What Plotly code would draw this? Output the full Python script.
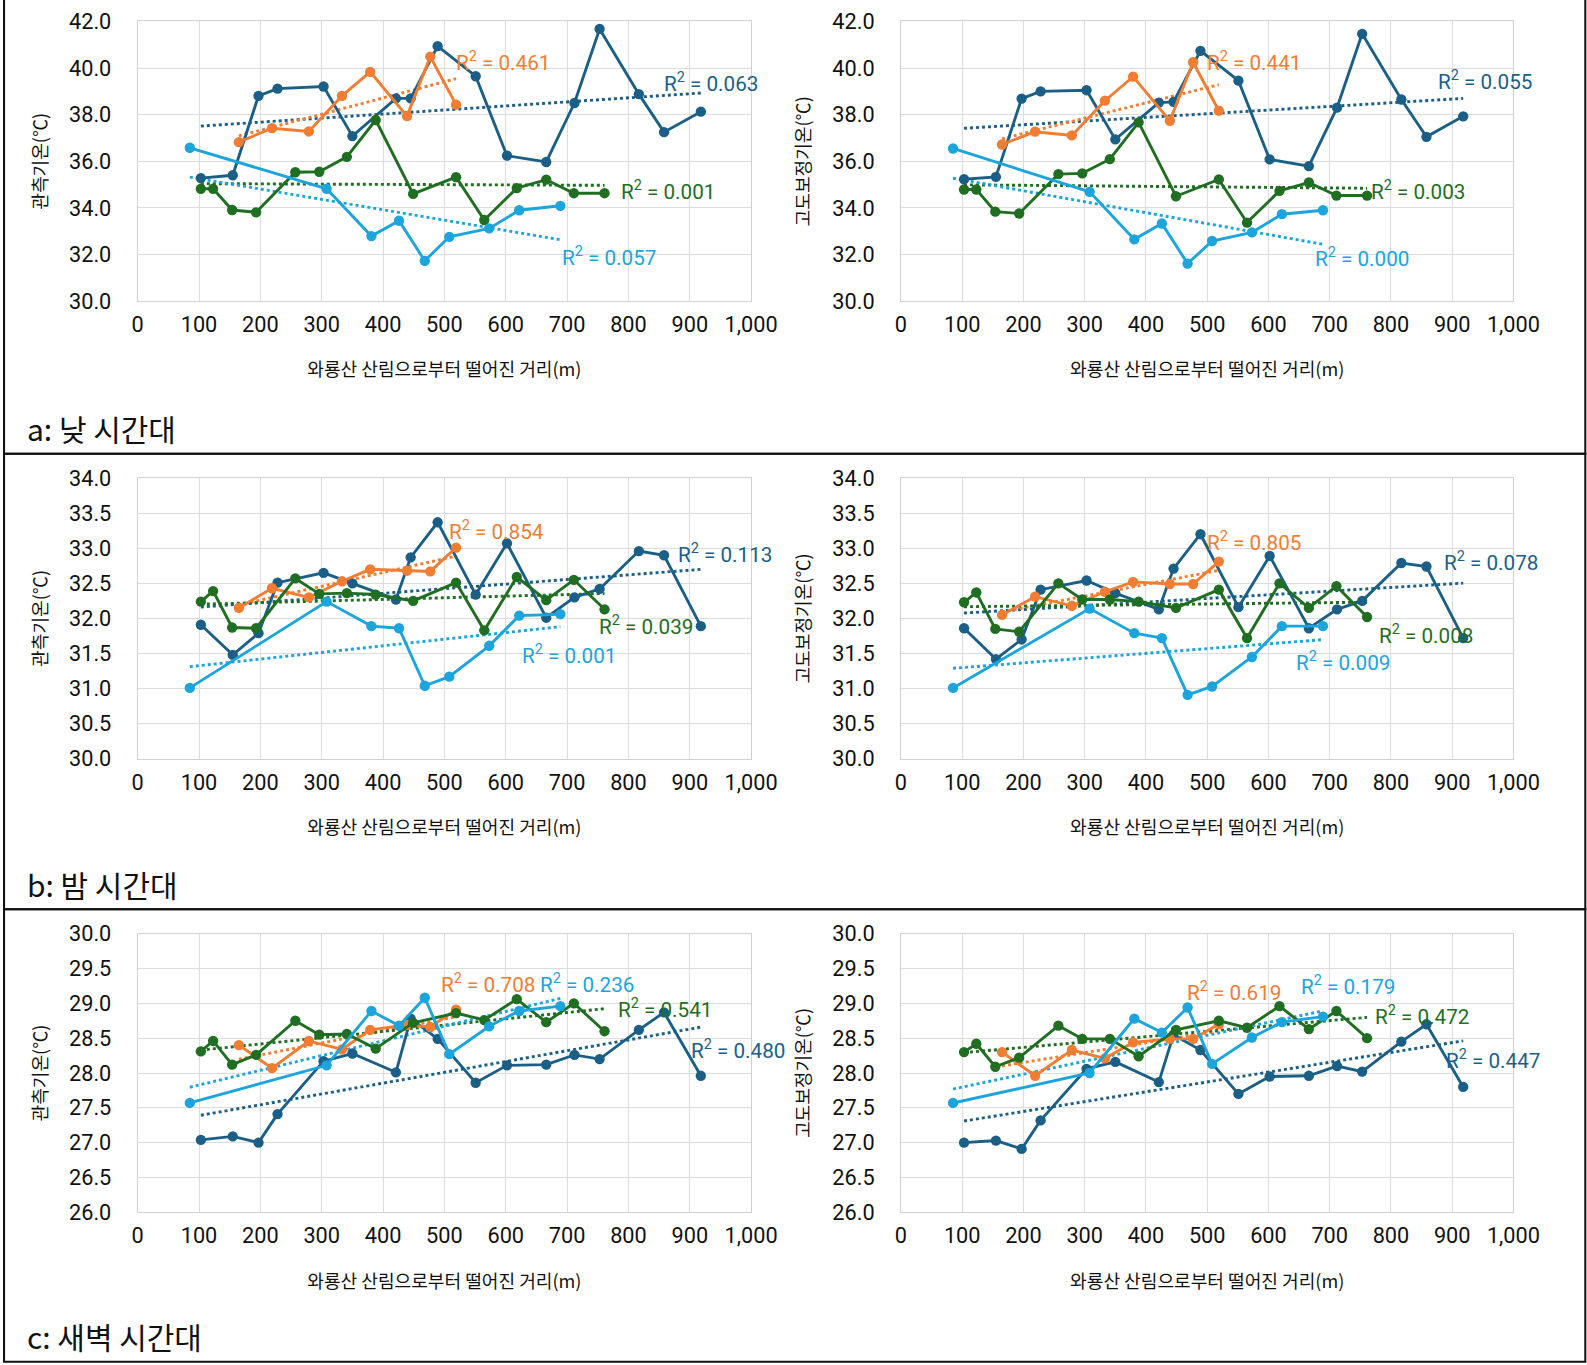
import numpy as np
import plotly.graph_objects as go

# ---------------- data ----------------
x_dark = [103, 155, 197, 228, 303, 350, 421, 445, 489, 551, 602, 666, 712, 753, 817, 858, 918]
x_orange = [165, 219, 279, 333, 379, 439, 477, 519]
x_green = [103, 123, 154, 193, 257, 296, 341, 388, 449, 519, 565, 618, 666, 711, 761]
x_light = [85, 308, 381, 426, 468, 508, 573, 622, 689]

# a: day, observed
day_obs_dark = [35.28, 35.40, 38.81, 39.12, 39.21, 37.08, 38.70, 38.70, 40.94, 39.65, 36.24, 35.97, 38.50, 41.68, 38.88, 37.25, 38.13]
day_obs_orange = [36.82, 37.42, 37.28, 38.81, 39.84, 37.94, 40.49, 38.43]
day_obs_green = [34.82, 34.82, 33.91, 33.81, 35.53, 35.55, 36.19, 37.77, 34.60, 35.32, 33.48, 34.85, 35.21, 34.63, 34.63]
day_obs_light = [36.58, 34.82, 32.79, 33.45, 31.73, 32.76, 33.12, 33.90, 34.09]
# a: day, altitude corrected
day_cor_dark = [35.23, 35.33, 38.69, 39.00, 39.05, 36.94, 38.52, 38.55, 40.74, 39.46, 36.08, 35.79, 38.30, 41.47, 38.65, 37.05, 37.93]
day_cor_orange = [36.72, 37.27, 37.11, 38.60, 39.63, 37.74, 40.25, 38.17]
day_cor_green = [34.79, 34.79, 33.84, 33.76, 35.45, 35.48, 36.09, 37.67, 34.50, 35.22, 33.37, 34.73, 35.09, 34.53, 34.53]
day_cor_light = [36.55, 34.69, 32.65, 33.33, 31.61, 32.58, 32.95, 33.73, 33.90]

# b: night, observed
night_obs_dark = [31.91, 31.48, 31.79, 32.51, 32.65, 32.50, 32.27, 32.87, 33.37, 32.34, 33.07, 32.01, 32.30, 32.42, 32.96, 32.90, 31.89]
night_obs_orange = [32.15, 32.43, 32.30, 32.53, 32.70, 32.68, 32.67, 33.01]
night_obs_green = [32.24, 32.39, 31.87, 31.86, 32.57, 32.35, 32.36, 32.34, 32.25, 32.51, 31.83, 32.59, 32.26, 32.55, 32.13]
night_obs_light = [31.01, 32.24, 31.89, 31.86, 31.04, 31.17, 31.61, 32.04, 32.06]
# b: night, altitude corrected
night_cor_dark = [31.86, 31.42, 31.70, 32.41, 32.54, 32.36, 32.13, 32.71, 33.20, 32.16, 32.89, 31.86, 32.13, 32.25, 32.79, 32.74, 31.72]
night_cor_orange = [32.05, 32.31, 32.18, 32.38, 32.52, 32.49, 32.49, 32.81]
night_cor_green = [32.23, 32.37, 31.85, 31.81, 32.50, 32.27, 32.27, 32.24, 32.15, 32.41, 31.72, 32.50, 32.15, 32.46, 32.02]
night_cor_light = [31.01, 32.14, 31.79, 31.72, 30.91, 31.03, 31.45, 31.89, 31.89]

# c: dawn, observed
dawn_obs_dark = [27.04, 27.09, 27.00, 27.41, 28.17, 28.28, 28.01, 28.78, 28.49, 27.86, 28.11, 28.12, 28.26, 28.20, 28.62, 28.87, 27.96]
dawn_obs_orange = [28.40, 28.07, 28.46, 28.34, 28.62, 28.69, 28.66, 28.91]
dawn_obs_green = [28.31, 28.46, 28.12, 28.26, 28.75, 28.55, 28.56, 28.35, 28.72, 28.86, 28.76, 29.06, 28.73, 29.00, 28.60]
dawn_obs_light = [27.57, 28.11, 28.89, 28.68, 29.08, 28.27, 28.67, 28.89, 28.96]
# c: dawn, altitude corrected
dawn_cor_dark = [27.00, 27.03, 26.91, 27.32, 28.06, 28.16, 27.87, 28.55, 28.33, 27.70, 27.95, 27.96, 28.10, 28.02, 28.45, 28.70, 27.80]
dawn_cor_orange = [28.30, 27.96, 28.33, 28.21, 28.44, 28.49, 28.49, 28.70]
dawn_cor_green = [28.30, 28.42, 28.09, 28.22, 28.68, 28.49, 28.49, 28.24, 28.62, 28.75, 28.65, 28.96, 28.63, 28.89, 28.50]
dawn_cor_light = [27.57, 28.00, 28.78, 28.58, 28.94, 28.13, 28.51, 28.73, 28.81]

# R² labels (dark, orange, green, light)
r2_day_obs = ["0.063", "0.461", "0.001", "0.057"]
r2_day_cor = ["0.055", "0.441", "0.003", "0.000"]
r2_night_obs = ["0.113", "0.854", "0.039", "0.001"]
r2_night_cor = ["0.078", "0.805", "0.008", "0.009"]
r2_dawn_obs = ["0.480", "0.708", "0.541", "0.236"]
r2_dawn_cor = ["0.447", "0.619", "0.472", "0.179"]

x_ticks = [0, 100, 200, 300, 400, 500, 600, 700, 800, 900, 1000]
x_title = "와룡산 산림으로부터 떨어진 거리(m)"
y_title_obs = "관측기온(℃)"
y_title_cor = "고도보정기온(℃)"
section_labels = ["a: 낮 시간대", "b: 밤 시간대", "c: 새벽 시간대"]

# ---------------- style / geometry ----------------
SX, SY = 0.968, 0.966            # screen scale compensation
K = 1.0 / 0.967                  # size scale compensation
W, H = 1645, 1420                # figure size in page px


def PX(x):
    return x / SX / W


def PY(y):
    return 1 - y / SY / H


C_DARK = "#1B5F87"
C_ORANGE = "#F07D32"
C_GREEN = "#1F6E21"
C_LIGHT = "#1CA4DD"
colors = [C_DARK, C_ORANGE, C_GREEN, C_LIGHT]
FONT_NUM = "Roboto, Noto Sans CJK KR, sans-serif"
FONT_KR = "Noto Sans CJK KR, sans-serif"

x_sets = [x_dark, x_orange, x_green, x_light]
panels = [
    dict(ys=[day_obs_dark, day_obs_orange, day_obs_green, day_obs_light], r2=r2_day_obs, ytitle=y_title_obs, row=0, col=0),
    dict(ys=[day_cor_dark, day_cor_orange, day_cor_green, day_cor_light], r2=r2_day_cor, ytitle=y_title_cor, row=0, col=1),
    dict(ys=[night_obs_dark, night_obs_orange, night_obs_green, night_obs_light], r2=r2_night_obs, ytitle=y_title_obs, row=1, col=0),
    dict(ys=[night_cor_dark, night_cor_orange, night_cor_green, night_cor_light], r2=r2_night_cor, ytitle=y_title_cor, row=1, col=1),
    dict(ys=[dawn_obs_dark, dawn_obs_orange, dawn_obs_green, dawn_obs_light], r2=r2_dawn_obs, ytitle=y_title_obs, row=2, col=0),
    dict(ys=[dawn_cor_dark, dawn_cor_orange, dawn_cor_green, dawn_cor_light], r2=r2_dawn_cor, ytitle=y_title_cor, row=2, col=1),
]

# plot-area pixel geometry in the reference picture
rows_px = [(27, 302, 30, 42, 2.0), (476, 752, 30, 34, 0.5), (924, 1198, 26, 30, 0.5)]
cols_px = [(135, 741), (889, 1494)]

# R² label positions (data coords; order dark, orange, green, light)
r2_pos = [
    [(855, 39.38), (516, 40.30), (785, 34.76), (688, 31.92)],
    [(874, 39.47), (496, 40.30), (764, 34.76), (673, 31.88)],
    [(878, 32.93), (505, 33.25), (749, 31.90), (624, 31.48)],
    [(883, 32.81), (496, 33.09), (777, 31.77), (641, 31.38)],
    [(899, 28.34), (492, 29.29), (780, 28.92), (652, 29.29)],
    [(886, 28.19), (464, 29.17), (770, 28.83), (650, 29.25)],
]

fig = go.Figure()
annotations = []
layout_axes = {}

for k, p in enumerate(panels, start=1):
    top, bot, y0, y1, dy = rows_px[p["row"]]
    left, right = cols_px[p["col"]]
    xa = f"x{k}"
    ya = f"y{k}"
    # linear trendlines (dotted), fitted to each series
    for xs, ys, c in zip(x_sets, p["ys"], colors):
        xs_a = np.array(xs, dtype=float)
        ys_a = np.array(ys, dtype=float)
        m, b = np.polyfit(xs_a, ys_a, 1)
        xt = np.array([xs_a.min(), xs_a.max()])
        fig.add_trace(go.Scatter(x=xt, y=m * xt + b, mode="lines", xaxis=xa, yaxis=ya,
                                 line=dict(color=c, width=2.8 * K, dash="dot"),
                                 showlegend=False, hoverinfo="skip"))
    for xs, ys, c in zip(x_sets, p["ys"], colors):
        fig.add_trace(go.Scatter(x=xs, y=ys, mode="lines+markers", xaxis=xa, yaxis=ya,
                                 line=dict(color=c, width=2.8 * K),
                                 marker=dict(color=c, size=10 * K),
                                 showlegend=False))
    for (px_, py_), txt, c in zip(r2_pos[k - 1], p["r2"], colors):
        annotations.append(dict(x=px_, y=py_, xref=xa, yref=ya, text=f"R<sup>2</sup> = {txt}",
                                showarrow=False, xanchor="left", yanchor="middle",
                                font=dict(family=FONT_NUM, size=20 * K, color=c)))
    sfx = "" if k == 1 else str(k)
    layout_axes["xaxis" + sfx] = dict(
        domain=[PX(left), PX(right)], anchor=ya, range=[0, 1000],
        tickvals=x_ticks, tickformat=",d", showgrid=True, gridcolor="#DCDCDC", gridwidth=1,
        zeroline=False, showline=True, linecolor="#D0D0D0", mirror=True,
        ticks="", ticklabelstandoff=round(4 * K),
        tickfont=dict(family=FONT_NUM, size=21 * K, color="#111111"),
        title=dict(text=x_title, standoff=round(26 * K),
                   font=dict(family=FONT_KR, size=17.5 * K, color="#111111")),
    )
    layout_axes["yaxis" + sfx] = dict(
        domain=[PY(bot), PY(top)], anchor=xa, range=[y0, y1], dtick=dy,
        tickformat=".1f", showgrid=True, gridcolor="#DCDCDC", gridwidth=1,
        zeroline=False, showline=True, linecolor="#D0D0D0", mirror=True,
        ticks="", ticklabelstandoff=round(20 * K),
        tickfont=dict(family=FONT_NUM, size=21 * K, color="#111111"),
        title=dict(text=p["ytitle"], standoff=round(15 * K),
                   font=dict(family=FONT_KR, size=17.5 * K, color="#111111")),
    )

# section labels
label_y = [427, 875, 1320]
for txt, py_ in zip(section_labels, label_y):
    annotations.append(dict(x=PX(24), y=PY(py_), xref="paper", yref="paper", text=txt,
                            showarrow=False, xanchor="left", yanchor="middle",
                            font=dict(family=FONT_KR, size=29 * K, color="#111111")))

# section borders
shapes = []
bounds = [(3, 452), (452, 900), (900, 1345)]
for t, b in bounds:
    shapes.append(dict(type="rect", xref="paper", yref="paper",
                       x0=PX(3), x1=PX(1565), y0=PY(b), y1=PY(t),
                       line=dict(color="#111111", width=2 * K), fillcolor="rgba(0,0,0,0)"))

fig.update_layout(width=W, height=H, autosize=False,
                  margin=dict(l=0, r=0, t=0, b=0),
                  paper_bgcolor="white", plot_bgcolor="white",
                  annotations=annotations, shapes=shapes, showlegend=False,
                  **layout_axes)

fig.write_html("out.html", config={"displayModeBar": False},
               post_script="document.body.style.margin='-18px 0 0 -5px';document.body.style.overflow='hidden';")
